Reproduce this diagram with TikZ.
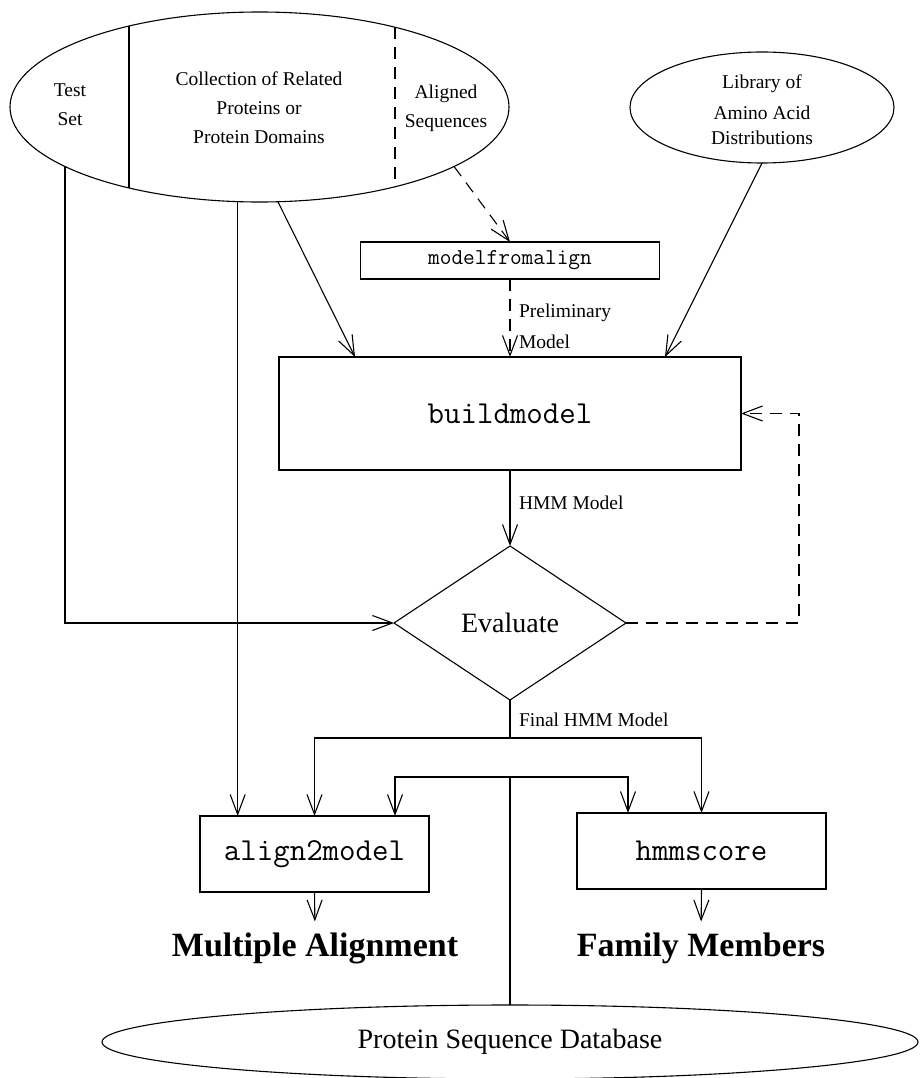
\documentclass[tikz,border=0pt]{standalone}
\usepackage{fontspec}
\setmainfont{Liberation Serif}
\usetikzlibrary{arrows.meta,shapes.geometric,calc}
\begin{document}
\begin{tikzpicture}[x=1pt,y=-1pt,line width=1.1pt,
    lbl/.style={font=\fontsize{19.5}{29}\selectfont},
    prog/.style={draw=black,rectangle,font=\ttfamily\fontsize{32}{36}\selectfont},
    result/.style={font=\bfseries\fontsize{34}{40}\selectfont},
    arr/.style={-{Straight Barb[length=20pt,width=15pt]}},
    dashline/.style={dash pattern=on 12pt off 8pt}]
    \tikzstyle{every node}+=[inner sep=0pt, outer sep=0pt]
    \useasboundingbox (0,0) rectangle (923,1078);
    \draw [black] (259.5,107) node [ellipse, draw, minimum width=499pt, minimum height=190pt] (coll) {};
    \draw [black] ($(coll.center)+(-130.5,-81)$) -- ($(coll.center)+(-130.5,81)$);
    \draw [black, dashline] ($(coll.center)+(135.5,-80)$) -- ($(coll.center)+(135.5,80)$);
    \draw (70,105) node [lbl, align=center] (testset) {Test\\Set};
    \draw (259,107.5) node [lbl, align=center] (related) {Collection of Related\\Proteins or\\Protein Domains};
    \draw (446,108.5) node [lbl, align=center] (aligned) {Aligned\\Sequences};
    \draw [black] (762,107.5) node [ellipse, draw, minimum width=264pt, minimum height=111pt] (lib) {};
    \draw (762,110) node [lbl, align=center] (libtext) {Library of\\[2pt]Amino Acid\\[-4pt]Distributions};
    \draw (510,260.5) node [prog, minimum width=299pt, minimum height=37pt, font=\ttfamily\fontsize{22.7}{26}\selectfont] (mfa) {modelfromalign};
    \draw (510,413.5) node [prog, minimum width=462pt, minimum height=113pt] (bm) {buildmodel};
    \draw (510,623) node [diamond, draw, aspect=1.5, minimum width=232pt, minimum height=154pt, font=\fontsize{28}{32}\selectfont] (eval) {Evaluate};
    \draw (314.5,854) node [prog, minimum width=229pt, minimum height=76pt] (a2m) {align2model};
    \draw (701.5,851) node [prog, minimum width=249pt, minimum height=76pt] (hs) {hmmscore};
    \draw (315,948) node [result] (malign) {Multiple Alignment};
    \draw (701,948) node [result] (famm) {Family Members};
    \draw [black] (510,1042) node [ellipse, draw, minimum width=816pt, minimum height=74pt, font=\fontsize{28}{32}\selectfont] (db) {Protein Sequence Database};
    \draw (519,326) node [lbl, anchor=west, align=left] (prelim) {Preliminary\\[2pt]Model};
    \draw (519,503) node [lbl, anchor=west] (hmmlbl) {HMM Model};
    \draw (519,720) node [lbl, anchor=west] (finallbl) {Final HMM Model};
    \draw [black, arr] (coll.197.4) |- (eval.west);
    \draw [black, arr] (coll.257.8) -- (coll.257.8 |- a2m.north);
    \draw [black, arr] (coll.281.6) -- ($(bm.north west)+(76,0)$);
    \draw [black, arr, dashline] (coll.343.6) -- (mfa.north);
    \draw [black, arr, dashline] (mfa.south) -- (bm.north);
    \draw [black, arr] (lib.south) -- ($(bm.north east)+(-76,0)$);
    \draw [black, arr] (bm.south) -- (eval.north);
    \draw [black, arr, dashline] (eval.east) -- ++(173,0) |- (bm.east);
    \draw [black] (eval.south) -- ++(0,38) coordinate (fork);
    \draw [black, arr] (fork) -| (a2m.north);
    \draw [black, arr] (fork) -| (hs.north);
    \draw [black] (db.north) -- ++(0,-228) coordinate (split);
    \draw [black, arr] (split) -| ($(a2m.north)+(80.5,0)$);
    \draw [black, arr] (split) -| ($(hs.north)+(-73.5,0)$);
    \draw [black, arr, shorten >=11pt] (a2m.south) -- (malign.north);
    \draw [black, arr, shorten >=11pt] (hs.south) -- (famm.north);
\end{tikzpicture}
\end{document}
